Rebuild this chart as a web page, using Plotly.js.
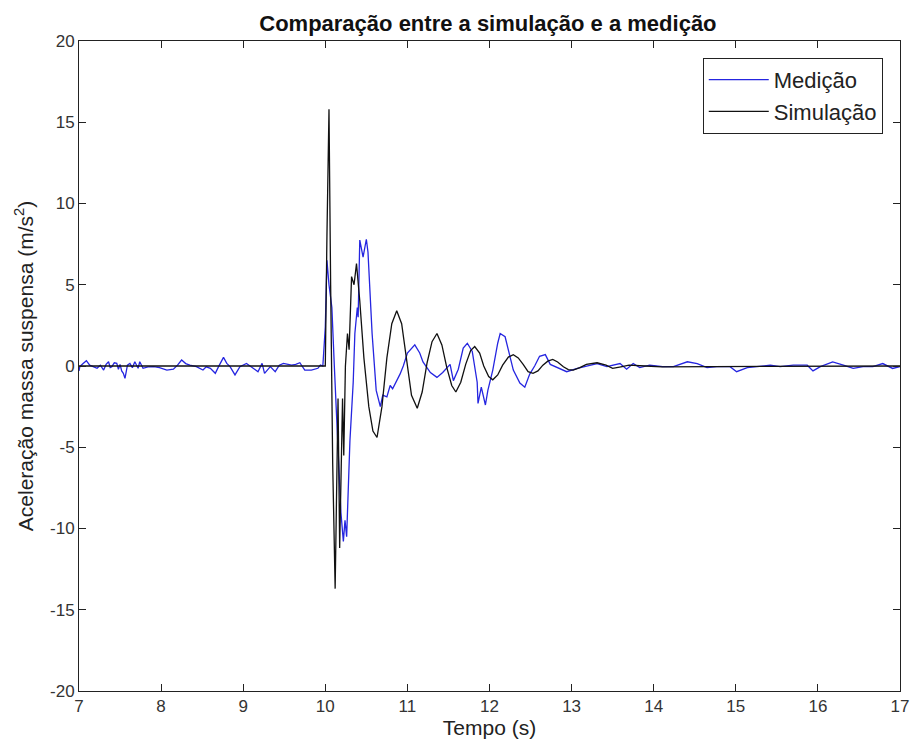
<!DOCTYPE html>
<html>
<head>
<meta charset="utf-8">
<script src="https://cdn.plot.ly/plotly-3.0.1.min.js"></script>
<style>html,body{margin:0;padding:0;background:#fff;}#chart{width:912px;height:746px;}</style>
</head>
<body>
<div id="chart"></div>
<script>
// Measurement (Medição)
const tMed = [7.00,7.01,7.05,7.09,7.13,7.18,7.22,7.26,7.30,7.33,7.36,7.38,7.40,7.43,7.46,7.48,7.50,7.52,7.54,7.56,7.59,7.62,7.65,7.68,7.72,7.74,7.78,7.84,7.91,7.98,8.07,8.15,8.20,8.25,8.30,8.35,8.43,8.51,8.55,8.60,8.66,8.70,8.76,8.80,8.84,8.90,8.96,9.04,9.10,9.18,9.23,9.26,9.33,9.39,9.44,9.49,9.59,9.64,9.69,9.75,9.83,9.91,9.94,9.97,
  10.00,10.02,10.045,10.08,10.11,10.14,10.17,10.19,10.22,10.24,10.26,10.30,10.34,10.36,10.39,10.40,10.42,10.46,10.50,10.52,10.57,10.62,10.67,10.70,10.75,10.79,10.82,10.87,10.91,10.95,11.00,11.09,11.15,11.19,11.28,11.36,11.43,11.52,11.56,11.62,11.68,11.73,11.79,11.85,11.86,11.90,11.95,11.98,12.04,12.10,12.13,12.19,12.23,12.29,12.37,12.43,12.49,12.55,12.61,12.68,12.74,12.86,12.94,13.07,
  13.19,13.31,13.43,13.59,13.67,13.75,13.83,13.95,14.11,14.24,14.41,14.53,14.65,14.77,14.93,15.01,15.14,15.26,15.42,15.54,15.70,15.87,15.94,16.03,16.18,16.31,16.43,16.55,16.67,16.79,16.91,17.00];
const vMed = [-0.3,-0.04,0.15,0.33,0.05,-0.05,-0.14,0.05,-0.25,0.1,0.26,-0.1,-0.04,0.2,0.16,-0.2,0.1,-0.3,-0.45,-0.76,0.05,0.16,-0.1,0.26,-0.14,0.26,-0.14,-0.05,-0.04,-0.1,-0.25,-0.2,0.05,0.37,0.15,0.06,-0.04,-0.25,-0.05,-0.14,-0.45,-0.04,0.53,0.16,-0.04,-0.55,-0.04,0.16,-0.04,-0.35,0.16,-0.45,-0.04,-0.35,0.05,0.16,0.06,0.1,0.2,-0.25,-0.25,-0.14,0.06,0.0,
  2.4,6.5,5.0,3.6,0.0,-3.5,-6.5,-9.0,-10.8,-9.5,-10.5,-4.6,-1.0,2.0,3.6,3.0,7.75,6.7,7.8,7.0,2.0,-1.5,-2.5,-1.8,-1.9,-1.2,-1.4,-0.9,-0.5,0.0,0.8,1.3,0.8,0.25,-0.4,-0.7,-0.4,0.1,-0.9,-0.2,1.1,1.4,0.9,-1.0,-2.3,-1.3,-2.4,-1.5,-0.25,1.4,2.0,1.8,1.0,-0.25,-1.05,-1.3,-0.5,0.0,0.6,0.7,0.1,-0.2,-0.35,-0.15,
  0.0,0.15,-0.04,0.15,-0.2,0.15,-0.1,0.05,-0.04,-0.04,0.26,0.15,-0.1,-0.04,-0.04,-0.35,-0.1,-0.04,0.05,-0.04,0.05,0.05,-0.3,-0.04,0.25,0.05,-0.15,-0.04,-0.04,0.15,-0.15,-0.04];

// Simulation (Simulação)
const tSim = [7.00,9.98,10.00,10.02,10.045,10.065,10.09,10.12,10.14,10.155,10.175,10.195,10.21,10.225,10.245,10.27,10.29,10.32,10.35,10.38,10.42,10.47,10.53,10.58,10.63,10.69,10.75,10.81,10.87,10.93,10.99,11.05,11.12,11.18,11.24,11.30,11.36,11.42,11.48,11.54,11.59,11.65,11.71,11.77,11.82,11.88,11.93,11.99,12.04,12.10,12.16,12.23,12.29,12.35,12.41,12.47,12.53,12.59,12.65,12.71,12.77,12.83,12.90,12.96,13.02,13.10,13.18,13.31,13.42,13.50,13.60,13.70,13.90,14.10,17.00];
const vSim = [0,0,0,8,15.8,5,-6,-13.7,-6,-2.0,-11.2,-5,-2.0,-5.5,0,2.0,1.0,5.5,5.0,6.3,4.0,0.5,-2.5,-4.0,-4.4,-2.5,0.5,2.6,3.4,2.6,0.5,-1.8,-2.6,-1.6,0.2,1.5,2.0,1.3,-0.1,-1.2,-1.6,-1.0,0.1,0.95,1.2,0.8,0.0,-0.65,-0.85,-0.55,0.05,0.55,0.7,0.5,0.1,-0.35,-0.45,-0.3,0.05,0.3,0.4,0.25,-0.05,-0.22,-0.25,-0.1,0.1,0.2,0.05,-0.15,-0.05,0.05,0.0,-0.05,0];

const xTicks = [7,8,9,10,11,12,13,14,15,16,17];
const yTicks = [-20,-15,-10,-5,0,5,10,15,20];

const FONT = 'Liberation Sans, Arial, sans-serif';
const axisCommon = {
  showgrid:false, zeroline:false, showline:true, linecolor:'#222', linewidth:1,
  mirror:'ticks', ticks:'inside', ticklen:7, tickcolor:'#222', tickwidth:1,
  tickfont:{family:FONT, size:17, color:'#333'}
};

const traces = [
  {x:tMed, y:vMed, type:'scatter', mode:'lines', name:'Medição', line:{color:'#2525e0', width:1.3}},
  {x:tSim, y:vSim, type:'scatter', mode:'lines', name:'Simulação', line:{color:'#111', width:1.3}}
];

const layout = {
  width:912, height:746,
  margin:{l:79, r:12, t:41, b:55},
  paper_bgcolor:'#fff', plot_bgcolor:'#fff',
  title:{text:'<b>Comparação entre a simulação e a medição</b>', x:0.535, xanchor:'center', y:0.969, yanchor:'middle',
         font:{family:FONT, size:22, color:'#111'}},
  xaxis:Object.assign({}, axisCommon, {range:[7,17], tickvals:xTicks, ticktext:xTicks.map(String), ticklabelstandoff:0,
         title:{text:'Tempo (s)', standoff:2, font:{family:FONT, size:21, color:'#222'}}}),
  yaxis:Object.assign({}, axisCommon, {range:[-20,20], tickvals:yTicks, ticktext:yTicks.map(String),
         title:{text:'Aceleração massa suspensa (m/s<sup>2</sup>)', standoff:10, font:{family:FONT, size:21, color:'#222'}}}),
  legend:{x:0.979, xanchor:'right', y:0.974, yanchor:'top', bgcolor:'#fff', bordercolor:'#222', borderwidth:1,
          font:{family:FONT, size:22, color:'#222'}, tracegroupgap:0, itemwidth:60},
  showlegend:true
};

Plotly.newPlot('chart', traces, layout, {staticPlot:true, displayModeBar:false});
</script>
</body>
</html>
